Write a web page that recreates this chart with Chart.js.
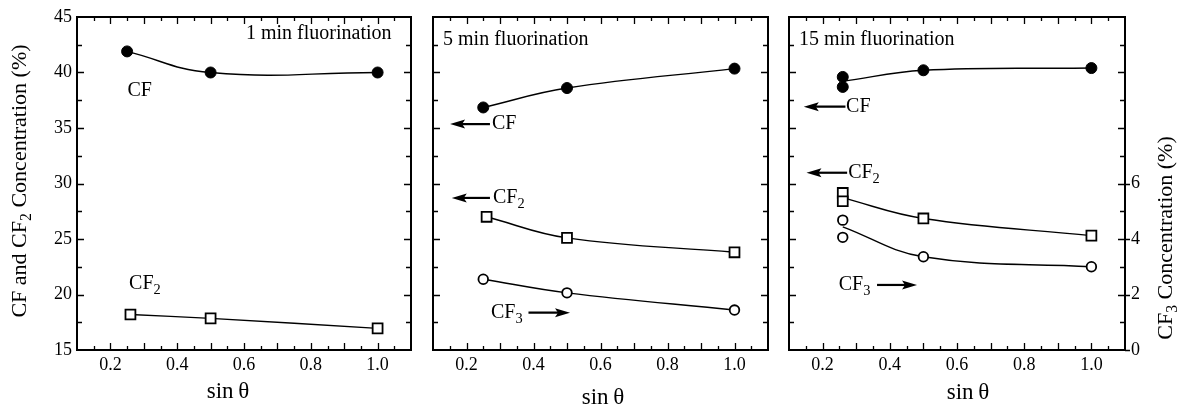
<!DOCTYPE html>
<html>
<head>
<meta charset="utf-8">
<script src="https://cdn.jsdelivr.net/npm/chart.js@4.4.0/dist/chart.umd.min.js"></script>
<style>
    body { margin:0; background:#fff; }
    #wrap { position:relative; width:1177px; height:413px; }
    #wrap canvas { position:absolute; left:0; top:0; }
</style>
</head>
<body>
<div id="wrap">
    <canvas id="p1" width="1177" height="413"></canvas>
    <canvas id="p2" width="1177" height="413"></canvas>
    <canvas id="p3" width="1177" height="413"></canvas>
</div>
<script>
const FONT = '"Liberation Serif", "Times New Roman", serif';

// ── Data ──────────────────────────────────────────────────────────────
const xTickLabels  = [0.2, 0.4, 0.6, 0.8, 1.0];
const yTickLabels  = [15, 20, 25, 30, 35, 40, 45];
const y2TickLabels = [0, 2, 4, 6];

// 1 min fluorination
const p1_cf_x  = [0.25, 0.50, 1.00];
const p1_cf_y  = [41.9, 40.0, 40.0];
const p1_cf2_x = [0.26, 0.50, 1.00];
const p1_cf2_y = [18.2, 17.85, 16.95];

// 5 min fluorination (CF3 on the right axis)
const p2_cf_x  = [0.25, 0.50, 1.00];
const p2_cf_y  = [36.85, 38.6, 40.35];
const p2_cf2_x = [0.26, 0.50, 1.00];
const p2_cf2_y = [27.0, 25.1, 23.8];
const p2_cf3_x = [0.25, 0.50, 1.00];
const p2_cf3_y = [2.55, 2.06, 1.44];

// 15 min fluorination: two measurements at the first angle
const p3_cf_x  = [0.26, 0.26, 0.50, 1.00];
const p3_cf_y  = [39.6, 38.7, 40.2, 40.4];
const p3_cf2_x = [0.26, 0.26, 0.50, 1.00];
const p3_cf2_y = [29.15, 28.4, 26.85, 25.3];
const p3_cf3_x = [0.26, 0.26, 0.50, 1.00];
const p3_cf3_y = [4.68, 4.06, 3.36, 3.0];
// fitted curves as drawn (start between the paired points)
const p3_fit_x   = [0.26, 0.50, 1.00];
const p3_cf_fit  = [39.2, 40.2, 40.4];
const p3_cf2_fit = [28.7, 26.85, 25.3];
const p3_cf3_fit = [4.44, 3.36, 3.0];

// tick marks (inward)
const xLongTicks  = [0.2, 0.3, 0.4, 0.5, 0.6, 0.7, 0.8, 0.9, 1.0];
const xShortTicks = [0.15, 0.25, 0.35, 0.45, 0.55, 0.65, 0.75, 0.85, 0.95, 1.05];
const yLongTicks  = [20, 25, 30, 35, 40];
const yShortTicks = [17.5, 22.5, 27.5, 32.5, 37.5, 42.5];

// ── Styles ────────────────────────────────────────────────────────────
const MARK = {
    dot:    { style:'circle', r:5.5, fill:'#000', bw:1 },
    square: { style:'rect',   r:7,   fill:'#fff', bw:1.8 },
    ring:   { style:'circle', r:4.8, fill:'#fff', bw:1.8 },
};

function pts(xs, ys) { return xs.map((x, i) => ({ x, y: ys[i] })); }

function markers(xs, ys, kind, axis) {
    const m = MARK[kind];
    return {
        data: pts(xs, ys), yAxisID: axis, showLine: false,
        pointStyle: m.style, pointRadius: m.r, pointHoverRadius: m.r,
        pointBackgroundColor: m.fill, pointBorderColor: '#000', pointBorderWidth: m.bw,
        order: 0,
    };
}

function curve(xs, ys, axis, tension) {
    return {
        data: pts(xs, ys), yAxisID: axis, showLine: true, pointRadius: 0,
        borderColor: '#000', borderWidth: 1.4, tension, order: 1,
    };
}

const CF  = [['CF', 0]];
const CF2 = [['CF', 0], ['2', 1]];
const CF3 = [['CF', 0], ['3', 1]];

const panels = [
    {
        id: 'p1', area: { left:77, top:17, right:411, bottom:350 }, yLabels: true, y2Labels: false,
        datasets: [
            markers(p1_cf_x, p1_cf_y, 'dot', 'y'),
            markers(p1_cf2_x, p1_cf2_y, 'square', 'y'),
            curve(p1_cf_x, p1_cf_y, 'y', 0.45),
            curve(p1_cf2_x, p1_cf2_y, 'y', 0.4),
        ],
        notes: [
            { text: [['1 min fluorination', 0]], x: 0.606, y: 43.45, axis:'y' },
            { text: CF,  x: 0.251, y: 38.4, axis:'y' },
            { text: CF2, x: 0.256, y: 21.0, axis:'y' },
        ],
        arrows: [],
        titles: [
            { text: [['CF and CF', 0], ['2', 1], [' Concentration (%)', 0]], x: 20, y: 181, size: 22, rot: true },
            { text: [['sin\u2009θ', 0]], x: 228, y: 392, size: 23 },
        ],
    },
    {
        id: 'p2', area: { left:433, top:17, right:768, bottom:350 }, yLabels: false, y2Labels: false,
        datasets: [
            markers(p2_cf_x, p2_cf_y, 'dot', 'y'),
            markers(p2_cf2_x, p2_cf2_y, 'square', 'y'),
            markers(p2_cf3_x, p2_cf3_y, 'ring', 'y2'),
            curve(p2_cf_x, p2_cf_y, 'y', 0.4),
            curve(p2_cf2_x, p2_cf2_y, 'y', 0.4),
            curve(p2_cf3_x, p2_cf3_y, 'y2', 0.4),
        ],
        notes: [
            { text: [['5 min fluorination', 0]], x: 0.13, y: 42.95, axis:'y' },
            { text: CF,  x: 0.276, y: 35.35, axis:'y' },
            { text: CF2, x: 0.279, y: 28.7, axis:'y' },
            { text: CF3, x: 0.273, y: 18.35, axis:'y' },
        ],
        arrows: [
            { from: 0.27, to: 0.151, y: 35.35 },
            { from: 0.27, to: 0.156, y: 28.7 },
            { from: 0.385, to: 0.509, y: 18.36 },
        ],
        titles: [
            { text: [['sin\u2009θ', 0]], x: 603, y: 398, size: 23 },
        ],
    },
    {
        id: 'p3', area: { left:789, top:17, right:1125, bottom:350 }, yLabels: false, y2Labels: true,
        datasets: [
            markers(p3_cf_x, p3_cf_y, 'dot', 'y'),
            markers(p3_cf2_x, p3_cf2_y, 'square', 'y'),
            markers(p3_cf3_x, p3_cf3_y, 'ring', 'y2'),
            curve(p3_fit_x, p3_cf_fit, 'y', 0.4),
            curve(p3_fit_x, p3_cf2_fit, 'y', 0.4),
            curve(p3_fit_x, p3_cf3_fit, 'y2', 0.4),
        ],
        notes: [
            { text: [['15 min fluorination', 0]], x: 0.13, y: 42.95, axis:'y' },
            { text: CF,  x: 0.27, y: 36.9, axis:'y' },
            { text: CF2, x: 0.276, y: 30.95, axis:'y' },
            { text: CF3, x: 0.248, y: 20.85, axis:'y' },
        ],
        arrows: [
            { from: 0.268, to: 0.144, y: 36.92 },
            { from: 0.273, to: 0.152, y: 30.97 },
            { from: 0.362, to: 0.481, y: 20.86 },
        ],
        titles: [
            { text: [['CF', 0], ['3', 1], [' Concentration (%)', 0]], x: 1166, y: 238, size: 22, rot: true },
            { text: [['sin\u2009θ', 0]], x: 968, y: 393, size: 23 },
        ],
    },
];

// ── Helpers ───────────────────────────────────────────────────────────
function richWidth(ctx, parts, size) {
    let w = 0;
    parts.forEach(([t, sub]) => {
        ctx.font = (sub ? size * 0.72 : size) + 'px ' + FONT;
        w += ctx.measureText(t).width;
    });
    return w;
}

function drawRich(ctx, parts, x, y, size, align) {
    const w = richWidth(ctx, parts, size);
    let cx = align === 'center' ? x - w / 2 : x;
    ctx.textAlign = 'left';
    ctx.textBaseline = 'middle';
    ctx.fillStyle = '#000';
    parts.forEach(([t, sub]) => {
        const s = sub ? size * 0.72 : size;
        ctx.font = s + 'px ' + FONT;
        ctx.fillText(t, cx, y + (sub ? size * 0.32 : 0));
        cx += ctx.measureText(t).width;
    });
}

function arrow(ctx, x1, x2, y) {
    const dir = Math.sign(x2 - x1);
    ctx.beginPath();
    ctx.moveTo(x1, y);
    ctx.lineTo(x2 - dir * 10, y);
    ctx.lineWidth = 2.2;
    ctx.stroke();
    ctx.beginPath();
    ctx.moveTo(x2, y);
    ctx.lineTo(x2 - dir * 15, y - 4.5);
    ctx.lineTo(x2 - dir * 12, y);
    ctx.lineTo(x2 - dir * 15, y + 4.5);
    ctx.closePath();
    ctx.fill();
}

// frame + inward ticks
const framePlugin = {
    id: 'frame',
    beforeDatasetsDraw(chart) {
        const { ctx, chartArea: a, scales } = chart;
        const p = chart.options.plugins.frame;
        ctx.save();
        ctx.strokeStyle = '#000';
        ctx.fillStyle = '#000';
        ctx.lineWidth = 1.3;
        ctx.beginPath();
        const vt = (list, len) => list.forEach(v => {
            const x = Math.round(scales.x.getPixelForValue(v)) + 0.5;
            ctx.moveTo(x, a.bottom); ctx.lineTo(x, a.bottom - len);
            ctx.moveTo(x, a.top);    ctx.lineTo(x, a.top + len);
        });
        const ht = (list, len) => list.forEach(v => {
            const y = Math.round(scales.y.getPixelForValue(v)) + 0.5;
            ctx.moveTo(a.left, y);  ctx.lineTo(a.left + len, y);
            ctx.moveTo(a.right, y); ctx.lineTo(a.right - len, y);
        });
        vt(xLongTicks, 7); vt(xShortTicks, 4);
        ht(yLongTicks, 7); ht(yShortTicks, 5);
        if (p.y2Labels) {
            y2TickLabels.forEach(v => {
                const y = Math.round(scales.y2.getPixelForValue(v)) + 0.5;
                ctx.moveTo(a.right, y); ctx.lineTo(a.right + 5, y);
            });
        }
        ctx.stroke();
        ctx.lineWidth = 2;
        ctx.strokeRect(a.left, a.top, a.right - a.left, a.bottom - a.top);
        ctx.restore();
    },
    afterDraw(chart) {
        const { ctx, scales } = chart;
        const p = chart.options.plugins.frame;
        ctx.save();
        ctx.fillStyle = '#000';
        ctx.strokeStyle = '#000';
        p.notes.forEach(n => {
            drawRich(ctx, n.text, scales.x.getPixelForValue(n.x), scales[n.axis].getPixelForValue(n.y), 20, 'left');
        });
        p.arrows.forEach(r => {
            arrow(ctx, scales.x.getPixelForValue(r.from), scales.x.getPixelForValue(r.to), scales.y.getPixelForValue(r.y));
        });
        p.titles.forEach(t => {
            ctx.save();
            ctx.translate(t.x, t.y);
            if (t.rot) ctx.rotate(-Math.PI / 2);
            drawRich(ctx, t.text, 0, 0, t.size, 'center');
            ctx.restore();
        });
        ctx.restore();
    }
};

// ── Build ─────────────────────────────────────────────────────────────
const Y_W = 60, Y2_W = 40, X_H = 40, W = 1177, H = 413;
const tickFont = { family: FONT, size: 18 };

panels.forEach(p => {
    const a = p.area;
    new Chart(document.getElementById(p.id), {
        type: 'scatter',
        data: { datasets: p.datasets },
        plugins: [framePlugin],
        options: {
            responsive: false,
            animation: false,
            events: [],
            layout: { padding: { left: a.left - Y_W, right: W - a.right - Y2_W, top: a.top, bottom: H - a.bottom - X_H } },
            plugins: {
                legend: { display: false },
                tooltip: { enabled: false },
                frame: { notes: p.notes, arrows: p.arrows, titles: p.titles, y2Labels: p.y2Labels },
            },
            scales: {
                x: {
                    type: 'linear', min: 0.1, max: 1.1,
                    afterBuildTicks: s => { s.ticks = xTickLabels.map(v => ({ value: v })); },
                    afterFit: s => { s.height = X_H; },
                    grid: { display: false, drawTicks: false },
                    border: { display: false },
                    ticks: { color: '#000', font: tickFont, padding: 4, maxRotation: 0, autoSkip: false,
                             callback: v => v.toFixed(1) },
                },
                y: {
                    type: 'linear', position: 'left', min: 15, max: 45,
                    afterBuildTicks: s => { s.ticks = yTickLabels.map(v => ({ value: v })); },
                    afterFit: s => { s.width = Y_W; },
                    grid: { display: false, drawTicks: false },
                    border: { display: false },
                    ticks: { display: p.yLabels, color: '#000', font: tickFont, padding: 5 },
                },
                y2: {
                    type: 'linear', position: 'right', min: 0, max: 12,
                    afterBuildTicks: s => { s.ticks = y2TickLabels.map(v => ({ value: v })); },
                    afterFit: s => { s.width = Y2_W; },
                    grid: { display: false, drawTicks: false },
                    border: { display: false },
                    ticks: { display: p.y2Labels, color: '#000', font: tickFont, padding: 6 },
                },
            },
        },
    });
});
</script>
</body>
</html>
